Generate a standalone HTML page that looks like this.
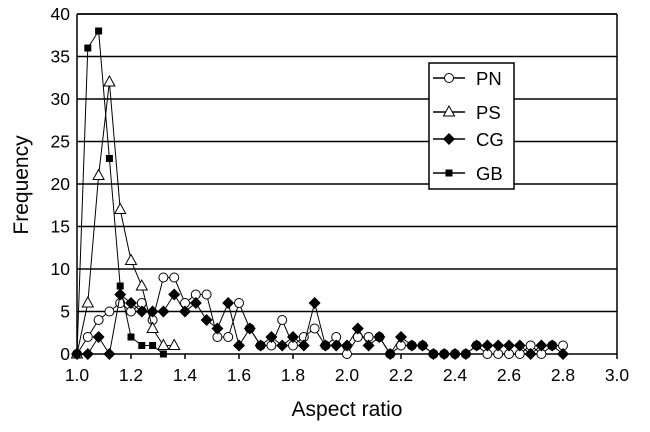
<!DOCTYPE html>
<html><head><style>body{margin:0;background:#fff}svg{display:block}text{font-family:"Liberation Sans",Arial,sans-serif}</style></head>
<body>
<svg id="s" width="650" height="432" xmlns="http://www.w3.org/2000/svg">
<rect width="650" height="432" fill="#fff"/>
<g id="grid" stroke="#000" stroke-width="1.5"></g>
<g id="series"></g>
<g id="labels" font-size="17.5" fill="#000"></g>
<text x="347" y="416" font-size="21" text-anchor="middle">Aspect ratio</text>
<text transform="translate(28,185) rotate(-90)" font-size="21" text-anchor="middle">Frequency</text>
<rect x="429" y="63" width="85" height="126" fill="#fff" stroke="#000" stroke-width="1.5"/>
<g id="leg" font-size="18.5"></g>
</svg>
<script>
var X0=77,X1=617,Y0=354,Y1=14;
function px(i){return X0+10.8*i}
function py(v){return Y0-v*8.5}
var g='';
for(var k=0;k<=8;k++){var y=Y0-k*42.5;g+='<line x1="'+X0+'" y1="'+y+'" x2="'+X1+'" y2="'+y+'"/>';}
g+='<line x1="'+X0+'" y1="'+Y1+'" x2="'+X0+'" y2="'+Y0+'"/>';
g+='<line x1="'+X0+'" y1="'+Y1+'" x2="'+X1+'" y2="'+Y1+'"/>';
g+='<line x1="'+X1+'" y1="'+Y1+'" x2="'+X1+'" y2="'+Y0+'"/>';
for(var k=0;k<=10;k++){var x=X0+k*54;g+='<line x1="'+x+'" y1="'+Y0+'" x2="'+x+'" y2="'+(Y0+5)+'"/>';}
document.getElementById('grid').innerHTML=g;
var l='';
for(var k=0;k<=8;k++){l+='<text x="70" y="'+(Y0-k*42.5+6)+'" text-anchor="end">'+(k*5)+'</text>';}
for(var k=0;k<=10;k++){l+='<text x="'+(X0+k*54)+'" y="381" text-anchor="middle">'+(1+k*0.2).toFixed(1)+'</text>';}
document.getElementById('labels').innerHTML=l;
function mk(t,x,y){
 if(t=='c')return '<circle cx="'+x+'" cy="'+y+'" r="4.5" fill="#fff" stroke="#000" stroke-width="1"/>';
 if(t=='t')return '<polygon points="'+x+','+(y-6)+' '+(x-5.5)+','+(y+4)+' '+(x+5.5)+','+(y+4)+'" fill="#fff" stroke="#000" stroke-width="1"/>';
 if(t=='d')return '<polygon points="'+x+','+(y-6)+' '+(x+6)+','+y+' '+x+','+(y+6)+' '+(x-6)+','+y+'" fill="#000"/>';
 return '<rect x="'+(x-3.5)+'" y="'+(y-3.5)+'" width="7" height="7" fill="#000"/>';
}
var data={
 c:[0,2,4,5,6,5,6,4,9,9,6,7,7,2,2,6,3,1,1,4,1,2,3,1,2,0,2,2,2,0,1,1,1,0,0,0,0,1,0,0,0,0,1,0,1,1],
 t:[0,6,21,32,17,11,8,3,1,1],
 d:[0,0,2,0,7,6,5,5,5,7,5,6,4,3,6,1,3,1,2,1,2,1,6,1,1,1,3,1,2,0,2,1,1,0,0,0,0,1,1,1,1,1,0,1,1,0],
 s:[0,36,38,23,8,2,1,1,0]
};
var out='';
['c','t','d','s'].forEach(function(t){
 var d=data[t],p=[];
 for(var i=0;i<d.length;i++)p.push(px(i).toFixed(1)+','+py(d[i]).toFixed(1));
 out+='<polyline points="'+p.join(' ')+'" fill="none" stroke="#000" stroke-width="1"/>';
 for(var i=0;i<d.length;i++)out+=mk(t,px(i),py(d[i]));
});
document.getElementById('series').innerHTML=out;
var lg='',ys=[78,112,139,173],nm=['PN','PS','CG','GB'],ts=['c','t','d','s'];
for(var i=0;i<4;i++){lg+='<line x1="433" y1="'+ys[i]+'" x2="465" y2="'+ys[i]+'" stroke="#000" stroke-width="1.5"/>'+mk(ts[i],449,ys[i])+'<text x="476" y="'+(ys[i]+7)+'">'+nm[i]+'</text>';}
document.getElementById('leg').innerHTML=lg;
</script>
</body></html>
